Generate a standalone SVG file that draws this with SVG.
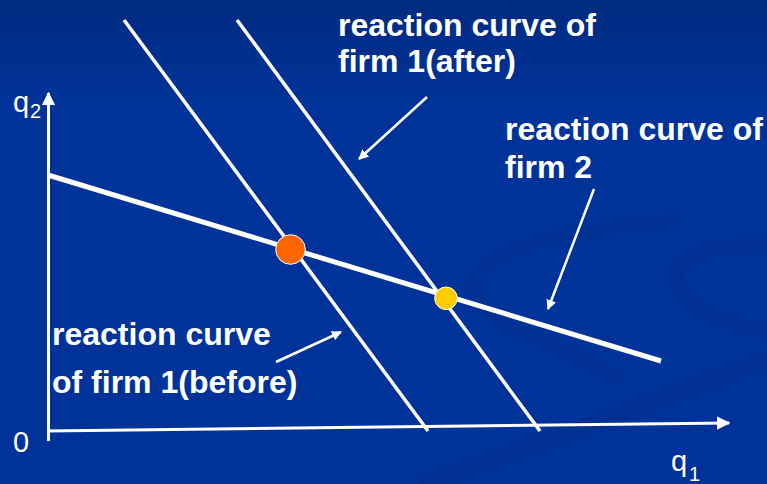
<svg xmlns="http://www.w3.org/2000/svg" width="767" height="484" viewBox="0 0 767 484">
<defs>
<linearGradient id="bg" x1="0" y1="0" x2="0" y2="1">
<stop offset="0" stop-color="#002a80"/>
<stop offset="0.22" stop-color="#003399"/>
<stop offset="1" stop-color="#003399"/>
</linearGradient>
<marker id="ah" viewBox="0 0 10 10" refX="9" refY="5" markerWidth="4" markerHeight="4" orient="auto" markerUnits="strokeWidth">
<path d="M0,0 L10,5 L0,10 Z" fill="#ffffff"/>
</marker>
<marker id="ax" viewBox="0 0 10 10" refX="9" refY="5" markerWidth="4.5" markerHeight="4.5" orient="auto" markerUnits="strokeWidth">
<path d="M0,0 L10,5 L0,10 Z" fill="#ffffff"/>
</marker>
<style>
.lbl{font-family:"Liberation Sans",Arial,sans-serif;font-weight:bold;font-size:32px;fill:#ffffff}
.axl{font-family:"Liberation Sans",Arial,sans-serif;font-size:29px;fill:#ffffff}
.sub{font-family:"Liberation Sans",Arial,sans-serif;font-size:20px;fill:#ffffff}
.ln{stroke:#ffffff;fill:none;stroke-linecap:butt}
.ptr{stroke:#ffffff;stroke-width:2.5;fill:none;marker-end:url(#ah)}
.sw{fill:none;stroke:#002f8e;stroke-opacity:0.6}
</style>
</defs>
<rect width="767" height="484" fill="url(#bg)"/>
<g id="background-swooshes">
<path class="sw" stroke-width="12" d="M680,220 C560,230 470,250 475,290 C480,330 560,340 620,380"/>
<path class="sw" stroke-width="14" d="M767,245 C700,245 665,260 680,290 C700,320 750,330 767,330"/>
<path class="sw" stroke-width="18" d="M767,360 C650,400 560,440 420,484"/>
</g>
<g id="axes">
<line id="y-axis" class="ln" stroke-width="3" x1="48.5" y1="441" x2="48.5" y2="93" marker-end="url(#ax)"/>
<line id="x-axis" class="ln" stroke-width="3" x1="47" y1="431" x2="729" y2="423" marker-end="url(#ax)"/>
<text class="axl" x="13" y="112">q</text><text class="sub" x="30" y="118">2</text>
<text class="axl" x="13" y="452">0</text>
<text class="axl" x="671" y="471">q</text><text class="sub" x="689" y="481">1</text>
</g>
<g id="connectors">
<line id="firm1-before" class="ln" stroke-width="3.5" x1="124" y1="20" x2="428" y2="431"/>
<line id="firm1-after" class="ln" stroke-width="3.5" x1="237" y1="20" x2="540" y2="431"/>
<line id="firm2" class="ln" stroke-width="5" x1="48" y1="175" x2="661" y2="361"/>
<line id="ptr-after" class="ptr" x1="427" y1="97" x2="359" y2="159"/>
<line id="ptr-firm2" class="ptr" x1="594" y1="189" x2="548" y2="309"/>
<line id="ptr-before" class="ptr" x1="276" y1="362" x2="341" y2="332"/>
</g>
<g id="eq-before">
<circle cx="290.5" cy="249.5" r="14.8" fill="#ff6600" stroke="#ffffff" stroke-width="1"/>
</g>
<g id="eq-after">
<circle cx="446" cy="298.3" r="11.3" fill="#ffcc00" stroke="#ffffff" stroke-width="1"/>
</g>
<g id="label-after">
<text class="lbl" x="338" y="36">reaction curve of</text>
<text class="lbl" x="338" y="72">firm 1(after)</text>
</g>
<g id="label-firm2">
<text class="lbl" x="505" y="140">reaction curve of</text>
<text class="lbl" x="505" y="178">firm 2</text>
</g>
<g id="label-before">
<text class="lbl" x="52" y="345">reaction curve</text>
<text class="lbl" x="52" y="393">of firm 1(before)</text>
</g>
</svg>
